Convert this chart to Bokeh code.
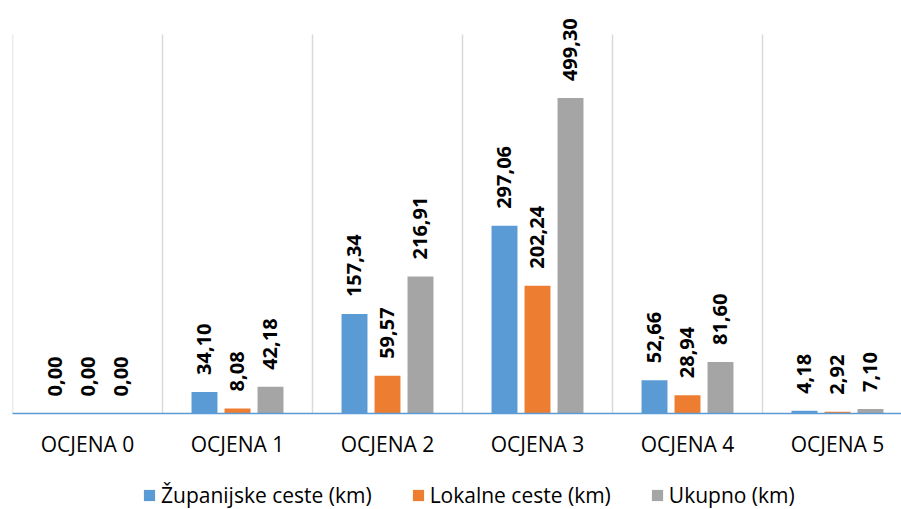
from bokeh.plotting import figure
from bokeh.layouts import column
from bokeh.models import ColumnDataSource, Range1d, FixedTicker, LabelSet, Legend, LegendItem
from bokeh.core.properties import value
from bokeh.embed import file_html
from bokeh.resources import INLINE

categories = ["OCJENA 0", "OCJENA 1", "OCJENA 2", "OCJENA 3", "OCJENA 4", "OCJENA 5"]
zupanijske = [0.00, 34.10, 157.34, 297.06, 52.66, 4.18]
lokalne = [0.00, 8.08, 59.57, 202.24, 28.94, 2.92]
ukupno = [0.00, 42.18, 216.91, 499.30, 81.60, 7.10]
series_names = ["Županijske ceste (km)", "Lokalne ceste (km)", "Ukupno (km)"]
colors = ["#5B9BD5", "#ED7D31", "#A5A5A5"]
y_max = 600

FONT = "Open Sans"

# frame top at canvas top so that labels above the gridlines are not clipped
p = figure(width=901, height=466, output_backend="svg", toolbar_location=None,
           x_range=Range1d(0, 889 / 150), y_range=Range1d(0, y_max * 413 / 379),
           min_border_left=12, min_border_right=0, min_border_top=0, min_border_bottom=53)
p.outline_line_color = None
p.yaxis.visible = False
p.grid.visible = False

# category separator lines (spanning 0..y_max)
bounds = list(range(len(categories) + 1))
p.segment(x0=bounds, x1=bounds, y0=[0] * len(bounds), y1=[y_max] * len(bounds),
          line_color="#D9D9D9", line_width=1.5)

centers = [i + 0.5 for i in range(len(categories))]
offsets = [-0.22, 0.0, 0.22]
for vals, off, col in zip([zupanijske, lokalne, ukupno], offsets, colors):
    src = ColumnDataSource(dict(
        x=[c + off for c in centers],
        top=vals,
        lab=[f"{v:.2f}".replace(".", ",") for v in vals],
    ))
    p.vbar(x="x", top="top", bottom=0, width=0.173, source=src,
           fill_color=col, line_color=None)
    ls = LabelSet(x="x", y="top", text="lab", source=src, angle=1.5707963,
                  text_align="left", text_baseline="middle", y_offset=17,
                  text_font=value(FONT), text_font_style="bold", text_font_size="20px",
                  text_color="#000000")
    p.add_layout(ls)

p.xaxis.ticker = FixedTicker(ticks=centers)
p.xaxis.major_label_overrides = {c: name for c, name in zip(centers, categories)}
p.xaxis.major_label_text_font = FONT
p.xaxis.major_label_text_font_size = "21px"
p.xaxis.major_label_text_color = "#000000"
p.xaxis.major_label_standoff = 10
p.xaxis.major_tick_line_color = None
p.xaxis.minor_tick_line_color = None
p.xaxis.axis_line_color = "#5B9BD5"
p.xaxis.axis_line_width = 1.5

# legend strip below the chart
lg = figure(width=901, height=43, output_backend="svg", toolbar_location=None,
            x_range=Range1d(0, 1), y_range=Range1d(0, 1),
            min_border_left=0, min_border_right=0, min_border_top=0, min_border_bottom=0)
lg.outline_line_color = None
lg.axis.visible = False
lg.grid.visible = False
items = []
for name, col in zip(series_names, colors):
    r = lg.vbar(x=[0], top=[0], bottom=[0], width=0, fill_color=col, line_color=None)
    items.append(LegendItem(label=name, renderers=[r]))
legend = Legend(items=items, orientation="horizontal", location=(130, 0),
                label_text_font=FONT, label_text_font_size="21px", label_text_color="#000000",
                glyph_width=14, glyph_height=14, label_standoff=5, label_height=22,
                spacing=39, border_line_color=None, background_fill_alpha=0,
                padding=0, margin=0)
lg.add_layout(legend)

open("out.html", "w").write(file_html(column(p, lg, spacing=0), INLINE))
